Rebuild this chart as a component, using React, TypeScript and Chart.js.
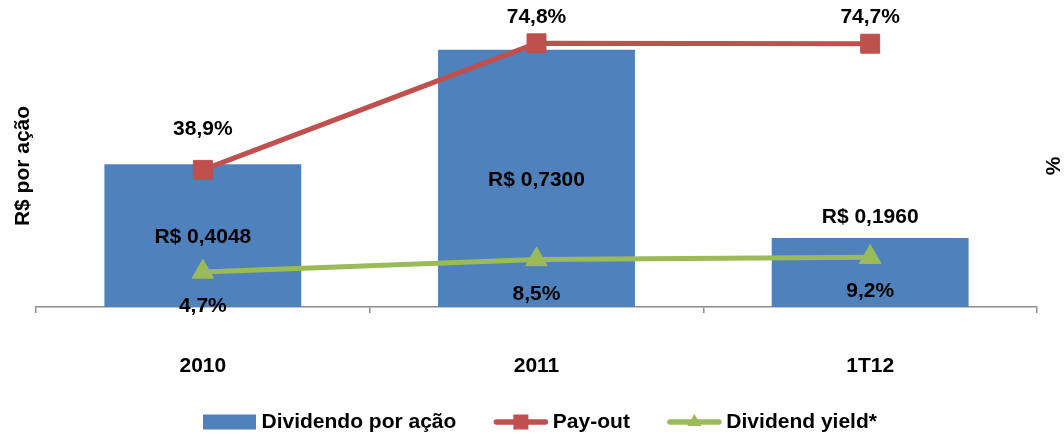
import React, { useEffect, useRef } from 'react';
import { Chart, registerables } from 'chart.js';

Chart.register(...registerables);

const categories = ['2010', '2011', '1T12'];
const dividendPerShare = [0.4048, 0.73, 0.196];
const payout = [38.9, 74.8, 74.7];
const dividendYield = [4.7, 8.5, 9.2];
const legendLabels = ['Dividendo por ação', 'Pay-out', 'Dividend yield*'];
const leftAxisTitle = 'R$ por ação';
const rightAxisTitle = '%';

const FONT = '"Liberation Sans", Arial, Helvetica, sans-serif';
const BLUE = '#4F81BD';
const RED = '#C0504D';
const GREEN = '#9BBB59';
const AXIS = '#8c8c8c';

const fmtPct = (v: number) => v.toFixed(1).replace('.', ',') + '%';
const fmtBRL = (v: number) => 'R$ ' + v.toFixed(4).replace('.', ',');

const overlayPlugin = {
  id: 'overlay',
  afterDraw(chart: any) {
    const ctx = chart.ctx as CanvasRenderingContext2D;
    ctx.save();
    ctx.font = `bold 21px ${FONT}`;
    ctx.fillStyle = '#000';
    ctx.textAlign = 'center';
    ctx.textBaseline = 'middle';

    // bar labels
    const barMeta = chart.getDatasetMeta(0);
    barMeta.data.forEach((el: any, i: number) => {
      const { x, y, base } = el.getProps(['x', 'y', 'base'], true);
      const h = base - y;
      const ly = h > 100 ? (y + base) / 2 + 1.5 : y - 21;
      ctx.fillText(fmtBRL(dividendPerShare[i]), x, ly);
    });

    // payout labels
    const payMeta = chart.getDatasetMeta(1);
    payMeta.data.forEach((el: any, i: number) => {
      const { x, y } = el.getProps(['x', 'y'], true);
      ctx.fillText(fmtPct(payout[i]), x, Math.max(y - 41, 17));
    });

    // yield labels
    const yMeta = chart.getDatasetMeta(2);
    yMeta.data.forEach((el: any, i: number) => {
      const { x, y } = el.getProps(['x', 'y'], true);
      ctx.fillText(fmtPct(dividendYield[i]), x, y + 34.5);
    });

    // axis titles
    const area = chart.chartArea;
    const midY = (area.top + area.bottom) / 2;
    ctx.textBaseline = 'alphabetic';
    ctx.save();
    ctx.translate(28.5, midY);
    ctx.rotate(-Math.PI / 2);
    ctx.fillText(leftAxisTitle, 0, 0);
    ctx.restore();
    ctx.save();
    ctx.translate(1060, midY);
    ctx.rotate(-Math.PI / 2);
    ctx.fillText(rightAxisTitle, 0, 0);
    ctx.restore();

    // legend
    const ly = 422;
    let lx = 203;
    const iconW = 53;
    const colors = [BLUE, RED, GREEN];
    legendLabels.forEach((label, i) => {
      if (i === 0) {
        ctx.fillStyle = colors[i];
        ctx.fillRect(lx, ly - 7.5, iconW, 15);
      } else {
        ctx.strokeStyle = colors[i];
        ctx.lineWidth = 5.5;
        ctx.lineCap = 'round';
        ctx.beginPath();
        ctx.moveTo(lx + 2, ly);
        ctx.lineTo(lx + iconW - 2, ly);
        ctx.stroke();
        ctx.fillStyle = colors[i];
        const cx = lx + iconW / 2;
        if (i === 1) {
          ctx.fillRect(cx - 7.5, ly - 7.5, 15, 15);
        } else {
          ctx.beginPath();
          ctx.moveTo(cx, ly - 8);
          ctx.lineTo(cx + 7, ly + 4);
          ctx.lineTo(cx - 7, ly + 4);
          ctx.closePath();
          ctx.fill();
        }
      }
      lx += iconW + 5.5;
      ctx.fillStyle = '#000';
      ctx.textAlign = 'left';
      ctx.textBaseline = 'middle';
      ctx.fillText(label, lx, ly);
      lx += ctx.measureText(label).width + 38;
    });

    ctx.restore();
  },
};

export default function App() {
  const canvasRef = useRef<HTMLCanvasElement | null>(null);

  useEffect(() => {
    const canvas = canvasRef.current;
    if (!canvas) return;
    const chart = new Chart(canvas, {
      type: 'bar',
      data: {
        labels: categories,
        datasets: [
          {
            type: 'bar',
            label: legendLabels[0],
            data: dividendPerShare,
            backgroundColor: BLUE,
            yAxisID: 'y',
            categoryPercentage: 1,
            barPercentage: 0.59,
            order: 3,
          },
          {
            type: 'line',
            label: legendLabels[1],
            data: payout,
            borderColor: RED,
            backgroundColor: RED,
            borderWidth: 5,
            pointStyle: 'rect',
            pointRadius: 13.4,
            pointBorderWidth: 1,
            pointBorderColor: RED,
            pointBackgroundColor: RED,
            tension: 0,
            yAxisID: 'y1',
            order: 1,
          },
          {
            type: 'line',
            label: legendLabels[2],
            data: dividendYield,
            borderColor: GREEN,
            backgroundColor: GREEN,
            borderWidth: 5,
            pointStyle: 'triangle',
            pointRadius: 12.5,
            pointBorderWidth: 1,
            pointBorderColor: GREEN,
            pointBackgroundColor: GREEN,
            tension: 0,
            yAxisID: 'y2',
            order: 0,
          },
        ] as any,
      },
      options: {
        responsive: false,
        animation: false,
        devicePixelRatio: 1,
        layout: { padding: { left: 36, right: 27, top: 25, bottom: 0 } },
        plugins: {
          legend: { display: false },
          tooltip: { enabled: false },
        },
        scales: {
          x: {
            type: 'category',
            offset: true,
            z: 1,
            grid: {
              display: true,
              offset: true,
              drawOnChartArea: false,
              drawTicks: true,
              tickLength: 6,
              color: AXIS,
              lineWidth: 1.5,
            },
            border: { display: true, color: AXIS, width: 1.5 },
            ticks: {
              color: '#000',
              font: { family: FONT, size: 21, weight: 'bold' },
              padding: 41,
              maxRotation: 0,
              autoSkip: false,
            },
            afterFit: (s: any) => {
              s.height = 128;
            },
          },
          y: { display: false, min: 0, max: 0.8 },
          y1: { display: false, min: 0, max: 80 },
          y2: { display: false, min: -6, max: 80 },
        },
      } as any,
      plugins: [overlayPlugin],
    });
    return () => chart.destroy();
  }, []);

  return (
    <div style={{ position: 'absolute', left: 0, top: 0, width: 1064, height: 435, background: '#fff' }}>
      <canvas ref={canvasRef} width={1064} height={435} style={{ display: 'block' }} />
    </div>
  );
}
